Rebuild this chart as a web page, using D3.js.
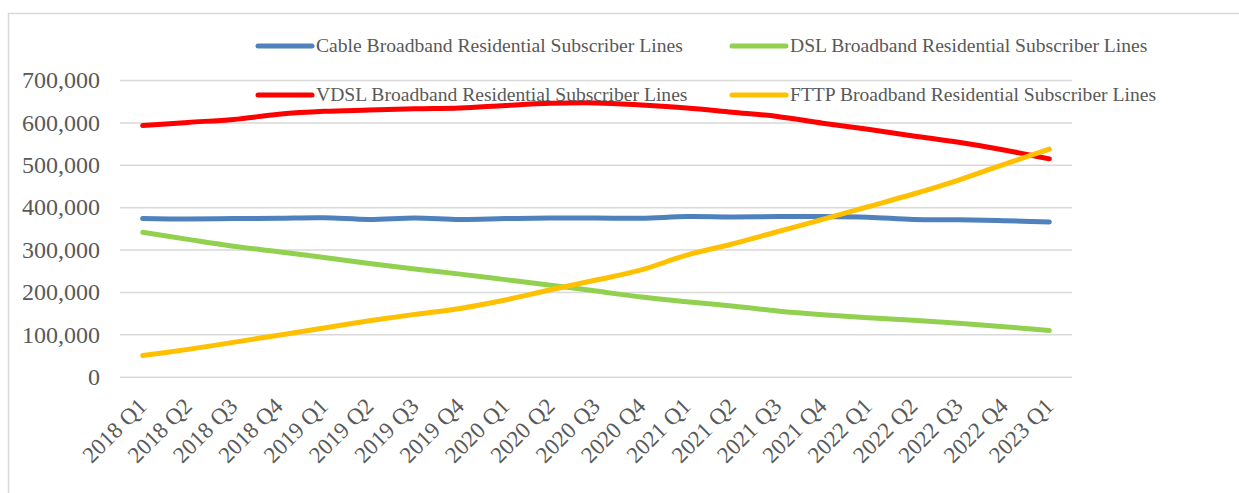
<!DOCTYPE html>
<html>
<head>
<meta charset="utf-8">
<script src="https://cdn.jsdelivr.net/npm/d3@7/dist/d3.min.js"></script>
<style>
  html, body { margin: 0; padding: 0; background: #fff; }
  svg { display: block; }
  text { font-family: "Liberation Serif", "DejaVu Serif", serif; fill: #595959; }
</style>
</head>
<body>
<svg id="chart" width="1239" height="493"></svg>
<script>
// Quarterly residential broadband subscriber lines by technology
const quarters = [
  "2018 Q1", "2018 Q2", "2018 Q3", "2018 Q4",
  "2019 Q1", "2019 Q2", "2019 Q3", "2019 Q4",
  "2020 Q1", "2020 Q2", "2020 Q3", "2020 Q4",
  "2021 Q1", "2021 Q2", "2021 Q3", "2021 Q4",
  "2022 Q1", "2022 Q2", "2022 Q3", "2022 Q4",
  "2023 Q1"
];

const cableLines = [373000, 372000, 373000, 374000, 375000, 371000, 374500, 371000, 373000, 374500, 374500,
                    373700, 377700, 377000, 377700, 377700, 376000, 371000, 370000, 368000, 365000];
const dslLines   = [340700, 324000, 308000, 295000, 281000, 267000, 254000, 242000, 229000, 216000, 202000,
                    188000, 177000, 167000, 155000, 146000, 139000, 133000, 126000, 118000, 109000];
const vdslLines  = [592500, 600000, 607000, 619000, 626000, 629000, 632000, 634000, 640000, 645000, 646000,
                    641000, 634000, 624000, 614000, 598000, 584000, 568000, 553000, 535000, 514000];
const fttpLines  = [50000, 64500, 81000, 98000, 115000, 132000, 147000, 161000, 181000, 205000, 228000,
                    252000, 287000, 313000, 342000, 371000, 401000, 431000, 464000, 501000, 537000];

const seriesNames = [
  "Cable Broadband Residential Subscriber Lines",
  "DSL Broadband Residential Subscriber Lines",
  "VDSL Broadband Residential Subscriber Lines",
  "FTTP Broadband Residential Subscriber Lines"
];
const seriesColors = ["#4F81BD", "#92D050", "#FF0000", "#FFC000"];
const seriesValues = [cableLines, dslLines, vdslLines, fttpLines];

const yTicks = [0, 100000, 200000, 300000, 400000, 500000, 600000, 700000];

const svg = d3.select("#chart");

// outer chart frame
svg.append("rect")
  .attr("x", 8.5).attr("y", 13.5)
  .attr("width", 1400).attr("height", 700)
  .attr("fill", "none")
  .attr("stroke", "#D9D9D9")
  .attr("stroke-width", 1.5);

const plot = { left: 120, right: 1072, top: 80, bottom: 376.7 };

const x = d3.scalePoint()
  .domain(quarters)
  .range([plot.left, plot.right])
  .padding(0.5);

const y = d3.scaleLinear()
  .domain([0, 700000])
  .range([plot.bottom, plot.top]);

// value axis with horizontal gridlines
const yAxis = svg.append("g")
  .attr("transform", `translate(${plot.left},0)`)
  .call(d3.axisLeft(y)
    .tickValues(yTicks)
    .tickFormat(d3.format(","))
    .tickSizeInner(-(plot.right - plot.left))
    .tickSizeOuter(0)
    .tickPadding(20));
yAxis.select(".domain").remove();
yAxis.selectAll(".tick line")
  .attr("stroke", "#D9D9D9")
  .attr("stroke-width", 1.5);
yAxis.selectAll(".tick text")
  .attr("font-size", 24)
  .attr("font-family", "Liberation Serif, serif")
  .attr("fill", "#595959");

// category axis with slanted quarter labels
const xAxis = svg.append("g")
  .attr("transform", `translate(0,${plot.bottom})`)
  .call(d3.axisBottom(x).tickSize(0).tickPadding(0));
xAxis.select(".domain").remove();
xAxis.selectAll(".tick text")
  .attr("font-size", 23)
  .attr("font-family", "Liberation Serif, serif")
  .attr("fill", "#595959")
  .attr("text-anchor", "end")
  .attr("y", 0)
  .attr("dy", 0)
  .attr("transform", "translate(5,31) rotate(-45)");

// smoothed series lines
const line = d3.line()
  .x((d, i) => x(quarters[i]))
  .y(d => y(d))
  .curve(d3.curveCatmullRom.alpha(0.5));

svg.append("g").selectAll("path")
  .data(seriesValues)
  .join("path")
  .attr("d", d => line(d))
  .attr("fill", "none")
  .attr("stroke", (d, i) => seriesColors[i])
  .attr("stroke-width", 5)
  .attr("stroke-linecap", "round")
  .attr("stroke-linejoin", "round");

// legend, two rows by two columns
const legendCols = [258, 732];
const legendRows = [46, 95];
const legend = svg.append("g").selectAll("g")
  .data(seriesNames)
  .join("g")
  .attr("transform", (d, i) => `translate(${legendCols[i % 2]},${legendRows[Math.floor(i / 2)]})`);
legend.append("line")
  .attr("x1", 0).attr("x2", 54)
  .attr("y1", 0).attr("y2", 0)
  .attr("stroke", (d, i) => seriesColors[i])
  .attr("stroke-width", 5)
  .attr("stroke-linecap", "round");
legend.append("text")
  .attr("x", 58)
  .attr("y", 0)
  .attr("dy", "0.33em")
  .attr("font-size", 19.6)
  .text(d => d);
</script>
</body>
</html>
